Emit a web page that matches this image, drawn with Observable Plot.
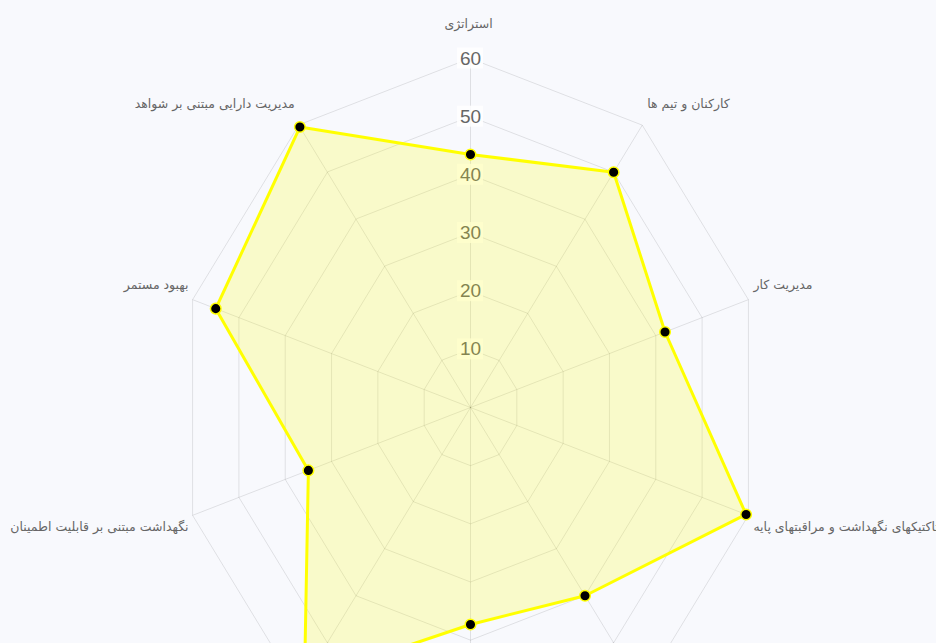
<!DOCTYPE html>
<html><head><meta charset="utf-8">
<script src="https://cdn.jsdelivr.net/npm/d3@7"></script>
<script src="https://cdn.jsdelivr.net/npm/@observablehq/plot@0.6"></script>
<style>
html,body{margin:0;padding:0;background:#f8f9fd;overflow:hidden;}
#chart svg{background:#f8f9fd;overflow:hidden;}
</style></head><body><div id="chart"></div>
<script>
const categories = [
  "استراتژی",
  "کارکنان و تیم ها",
  "مدیریت کار",
  "تاکتیکهای نگهداشت و مراقبتهای پایه",
  "مدیریت مواد و قطعات",
  "برنامه ریزی و زمانبندی",
  "مدیریت ریسک",
  "نگهداشت مبتنی بر قابلیت اطمینان",
  "بهبود مستمر",
  "مدیریت دارایی مبتنی بر شواهد"
];
const values = [43.5, 50, 42, 59.5, 40, 37.3, 58, 35, 55, 59.6];
const tickValues = [10, 20, 30, 40, 50, 60];
const maxValue = 60;

const n = categories.length;
const ang = i => 2 * Math.PI * i / n;
const pts = categories.map((c, i) => ({category: c, value: values[i], x: values[i] * Math.sin(ang(i)), y: values[i] * Math.cos(ang(i))}));
const grid = tickValues.flatMap(t => categories.map((c, i) => ({level: t, x: t * Math.sin(ang(i)), y: t * Math.cos(ang(i))})));
const spokes = categories.map((c, i) => ({category: c, s: Math.sin(ang(i)), c: Math.cos(ang(i)), x: maxValue * Math.sin(ang(i)), y: maxValue * Math.cos(ang(i))}));

const cx = 470, cy = 407, rx = 292.2, ry = 349;

const labelMarks = spokes.map(d => {
  const anchor = d.s > 0.01 ? "start" : d.s < -0.01 ? "end" : "middle";
  const dx = d.s > 0.01 ? 5 : d.s < -0.01 ? -4 : -2;
  const dy = Math.abs(d.c) > 0.99 ? -35 * Math.sign(d.c) : (d.c > 0 ? -(11 + 12 * d.c) : (8 + 12 * -d.c));
  return Plot.text([d], {x: "x", y: "y", text: "category", textAnchor: anchor, dx, dy,
    fill: "#666", fontSize: 12.5, fontFamily: "DejaVu Sans"});
});

const chart = Plot.plot({
  width: 936,
  height: 820,
  margin: 0,
  style: {background: "#f8f9fd"},
  x: {domain: [-maxValue, maxValue], range: [cx - rx, cx + rx], axis: null},
  y: {domain: [-maxValue, maxValue], range: [cy + ry, cy - ry], axis: null},
  marks: [
    Plot.line(grid, {x: "x", y: "y", z: "level", curve: "linear-closed", stroke: "#000", strokeOpacity: 0.1, strokeWidth: 1}),
    Plot.link(spokes, {x1: d => 0, y1: d => 0, x2: "x", y2: "y", stroke: "#000", strokeOpacity: 0.1, strokeWidth: 1}),
    Plot.rect(tickValues, {x1: d => 0, x2: d => 0, y1: d => d, y2: d => d, insetLeft: -13, insetRight: -13, insetTop: -10.5, insetBottom: -10.5, fill: "white", fillOpacity: 0.85}),
    Plot.text(tickValues, {x: d => 0, y: d => d, text: d => String(d), fontSize: 19, fill: "#666", fontFamily: "Liberation Sans, Arial, sans-serif"}),
    Plot.line(pts, {x: "x", y: "y", curve: "linear-closed", fill: "#ffff00", fillOpacity: 0.2, stroke: "#ffff00", strokeWidth: 3}),
    Plot.dot(pts, {x: "x", y: "y", r: 5.3, fill: "black", stroke: "#ffff00", strokeWidth: 1.5}),
    ...labelMarks
  ]
});
document.getElementById("chart").appendChild(chart);
</script>
</body></html>
